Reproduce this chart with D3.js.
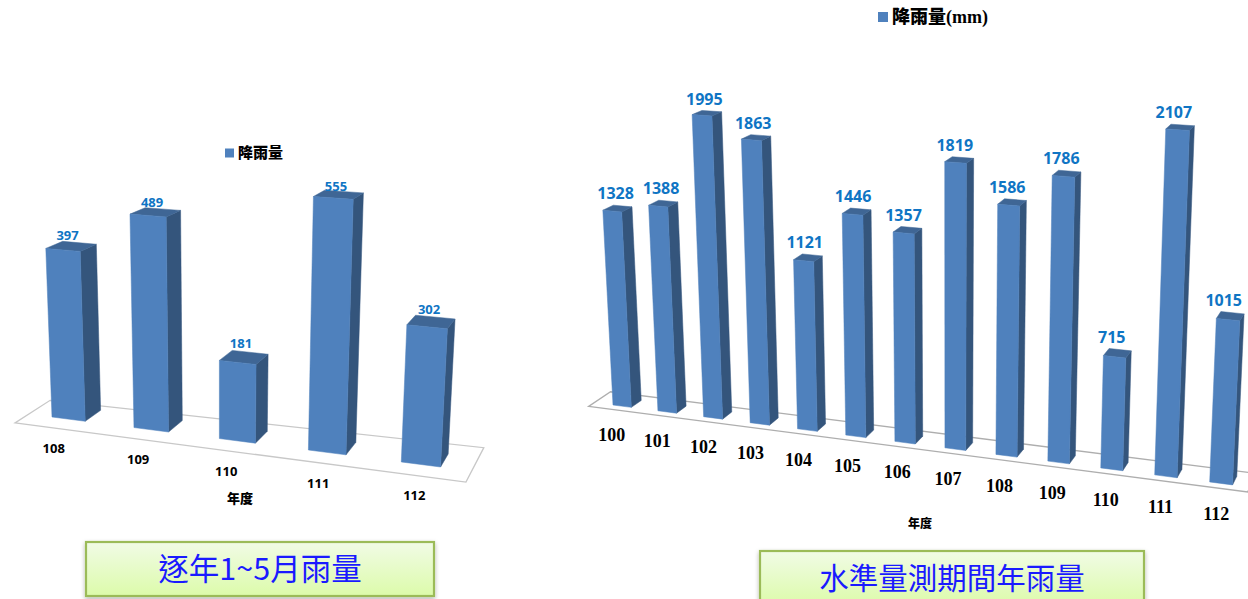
<!DOCTYPE html>
<html><head><meta charset="utf-8">
<script src="https://cdn.jsdelivr.net/npm/d3@7"></script>
<style>html,body{margin:0;padding:0;background:#fff;overflow:hidden}svg{display:block}</style>
</head><body><svg id="c" width="1248" height="599"></svg>
<script>
const leftCategories = ["108","109","110","111","112"];
const leftValues = [397,489,181,555,302];
const rightCategories = ["100","101","102","103","104","105","106","107","108","109","110","111","112"];
const rightValues = [1328,1388,1995,1863,1121,1446,1357,1819,1586,1786,715,2107,1015];
const legendLeft = "降雨量";
const legendRightUnit = "(mm)";
const axisTitle = "年度";
const titleLeft = "逐年1~5月雨量";
const titleRight = "水準量測期間年雨量";

const svg = d3.select("#c");
const defs = svg.append("defs");
const grad = defs.append("linearGradient").attr("id","boxFill").attr("x1",0).attr("y1",0).attr("x2",0).attr("y2",1);
grad.append("stop").attr("offset","0").attr("stop-color","#f1fbe6");
grad.append("stop").attr("offset","1").attr("stop-color","#dcfbaa");
const sh = defs.append("filter").attr("id","boxShadow").attr("x","-5%").attr("y","-15%").attr("width","110%").attr("height","135%");
sh.append("feDropShadow").attr("dx",0).attr("dy",2).attr("stdDeviation",2).attr("flood-color","#000").attr("flood-opacity",.3);

function makeProjection(p){
  return (u,v,d)=>{
    const w = 1+p.wu*u+p.wv*v+p.wd*d;
    return [(p.x0+p.xu*u+p.xv*v+p.xd*d)/w,(p.y0+p.yu*u+p.yv*v+p.yd*d)/w];
  };
}
function drawChart(cfg){
  const g = svg.append("g");
  const project = makeProjection(cfg.proj);
  const xIndex = d3.scalePoint().domain(cfg.categories).range([0,cfg.categories.length-1]);
  const lift = d3.scaleLinear().domain([0,d3.max(cfg.values)]).range([cfg.labelLift,0]);
  const poly = pts => d3.line()(pts)+"Z";
  const n = cfg.categories.length-1;
  const F = cfg.floor;
  g.append("path").attr("d",poly([project(F.u0,0,F.d0),project(n+F.u1,0,F.d0),project(n+F.u1,0,F.d1r),project(F.u0,0,F.d1)]))
    .attr("fill","#fff").attr("stroke",cfg.floorColor).attr("stroke-width",1.3);
  const rows = cfg.categories.map((c,i)=>({c,v:cfg.values[i],u:xIndex(c)}));
  const W = cfg.barWidth;
  const bars = g.selectAll("g.bar").data(rows).join("g").attr("class","bar");
  const face = (fn,col)=>bars.append("path").attr("d",fn).attr("fill",col).attr("stroke",col).attr("stroke-width",.5).attr("stroke-linejoin","round");
  face(r=>poly([project(r.u+W,0,0),project(r.u+W,0,1),project(r.u+W,r.v,1),project(r.u+W,r.v,0)]),"#34557c");
  face(r=>poly([project(r.u,r.v,0),project(r.u+W,r.v,0),project(r.u+W,r.v,1),project(r.u,r.v,1)]),"#3f6695");
  face(r=>poly([project(r.u,0,0),project(r.u+W,0,0),project(r.u+W,r.v,0),project(r.u,r.v,0)]),"#4f81bd");
  g.selectAll("text.val").data(rows).join("text").attr("class","val")
    .attr("x",r=>project(r.u+cfg.labelU,r.v,cfg.labelD)[0]).attr("y",r=>project(r.u+cfg.labelU,r.v,cfg.labelD)[1]+cfg.labelDy+lift(r.v))
    .attr("text-anchor","middle").attr("font-family","'Open Sans',sans-serif").attr("font-weight",700)
    .attr("font-size",cfg.labelSize).attr("fill","#0f75c4").text(r=>r.v);
  g.selectAll("text.cat").data(rows).join("text").attr("class","cat")
    .attr("x",r=>project(r.u+cfg.catU,0,cfg.catD)[0]).attr("y",r=>project(r.u+cfg.catU,0,cfg.catD)[1]+cfg.catDy)
    .attr("text-anchor","middle").attr("font-family",cfg.catFont).attr("font-weight",700)
    .attr("font-size",cfg.catSize).attr("fill","#000").text(r=>r.c);
}
drawChart({
  categories:leftCategories,values:leftValues,barWidth:.41,
  proj:{wu:-.02,wv:-9e-5,wd:.024,x0:52,xu:79.3,xv:-.0197,xd:17.7,y0:417,yu:2,yv:-.447,yd:-1},
  floor:{u0:-.29,u1:.73,d0:-.8,d1:1.3,d1r:1.8},floorColor:"#c8c8c8",
  labelU:.2,labelD:.3,labelDy:-5,labelLift:-10,labelSize:13,catU:.225,catD:-1,catDy:22,
  catFont:"'Open Sans',sans-serif",catSize:13
});
drawChart({
  categories:rightCategories,values:rightValues,barWidth:.41,
  proj:{wu:-.0087,wv:-2.2e-5,wd:.0102,x0:613,xu:39.2,xv:-.0209,xd:16.4,y0:405,yu:2.22,yv:-.1513,yd:-2.8},
  floor:{u0:-.42,u1:.72,d0:-.55,d1:1.6,d1r:1.6},floorColor:"#aeaeae",
  labelU:.05,labelD:1,labelDy:-6,labelLift:0,labelSize:16,catU:.2,catD:-1,catDy:28,
  catFont:"'Liberation Serif',serif",catSize:18
});

function legend(x,y,swatch,size,label,unit){
  svg.append("rect").attr("x",x).attr("y",y-swatch/2).attr("width",swatch).attr("height",swatch).attr("fill","#4f81bd");
  const t = svg.append("text").attr("x",x+swatch+4).attr("y",y+size*.36).attr("font-family","'Noto Sans CJK TC'")
    .attr("font-weight",900).attr("font-size",size).attr("fill","#000").text(label);
  if(unit) t.append("tspan").attr("font-family","'Liberation Serif',serif").attr("font-weight",700).text(unit);
}
legend(225,153,9,15,legendLeft,null);
legend(878,17,10,18,legendLeft,legendRightUnit);
[[240,503,13],[920,528,12]].forEach(([x,y,s])=>{
  svg.append("text").attr("x",x).attr("y",y).attr("text-anchor","middle").attr("font-family","'Noto Sans CJK TC'")
    .attr("font-weight",900).attr("font-size",s).attr("fill","#000").text(axisTitle);
});
function titleBox(x,y,w,h,label,size){
  svg.append("rect").attr("x",x).attr("y",y).attr("width",w).attr("height",h)
    .attr("fill","url(#boxFill)").attr("stroke","#9bbb59").attr("stroke-width",2.2).attr("filter","url(#boxShadow)");
  svg.append("text").attr("x",x+w/2).attr("y",y+h/2+size*.36).attr("text-anchor","middle")
    .attr("font-family","'Noto Sans CJK TC'").attr("font-weight",400).attr("font-size",size).attr("fill","#1a1aff").text(label);
}
titleBox(86,542,348,54,titleLeft,30.5);
titleBox(760,551,384,54,titleRight,29.5);
</script></body></html>
